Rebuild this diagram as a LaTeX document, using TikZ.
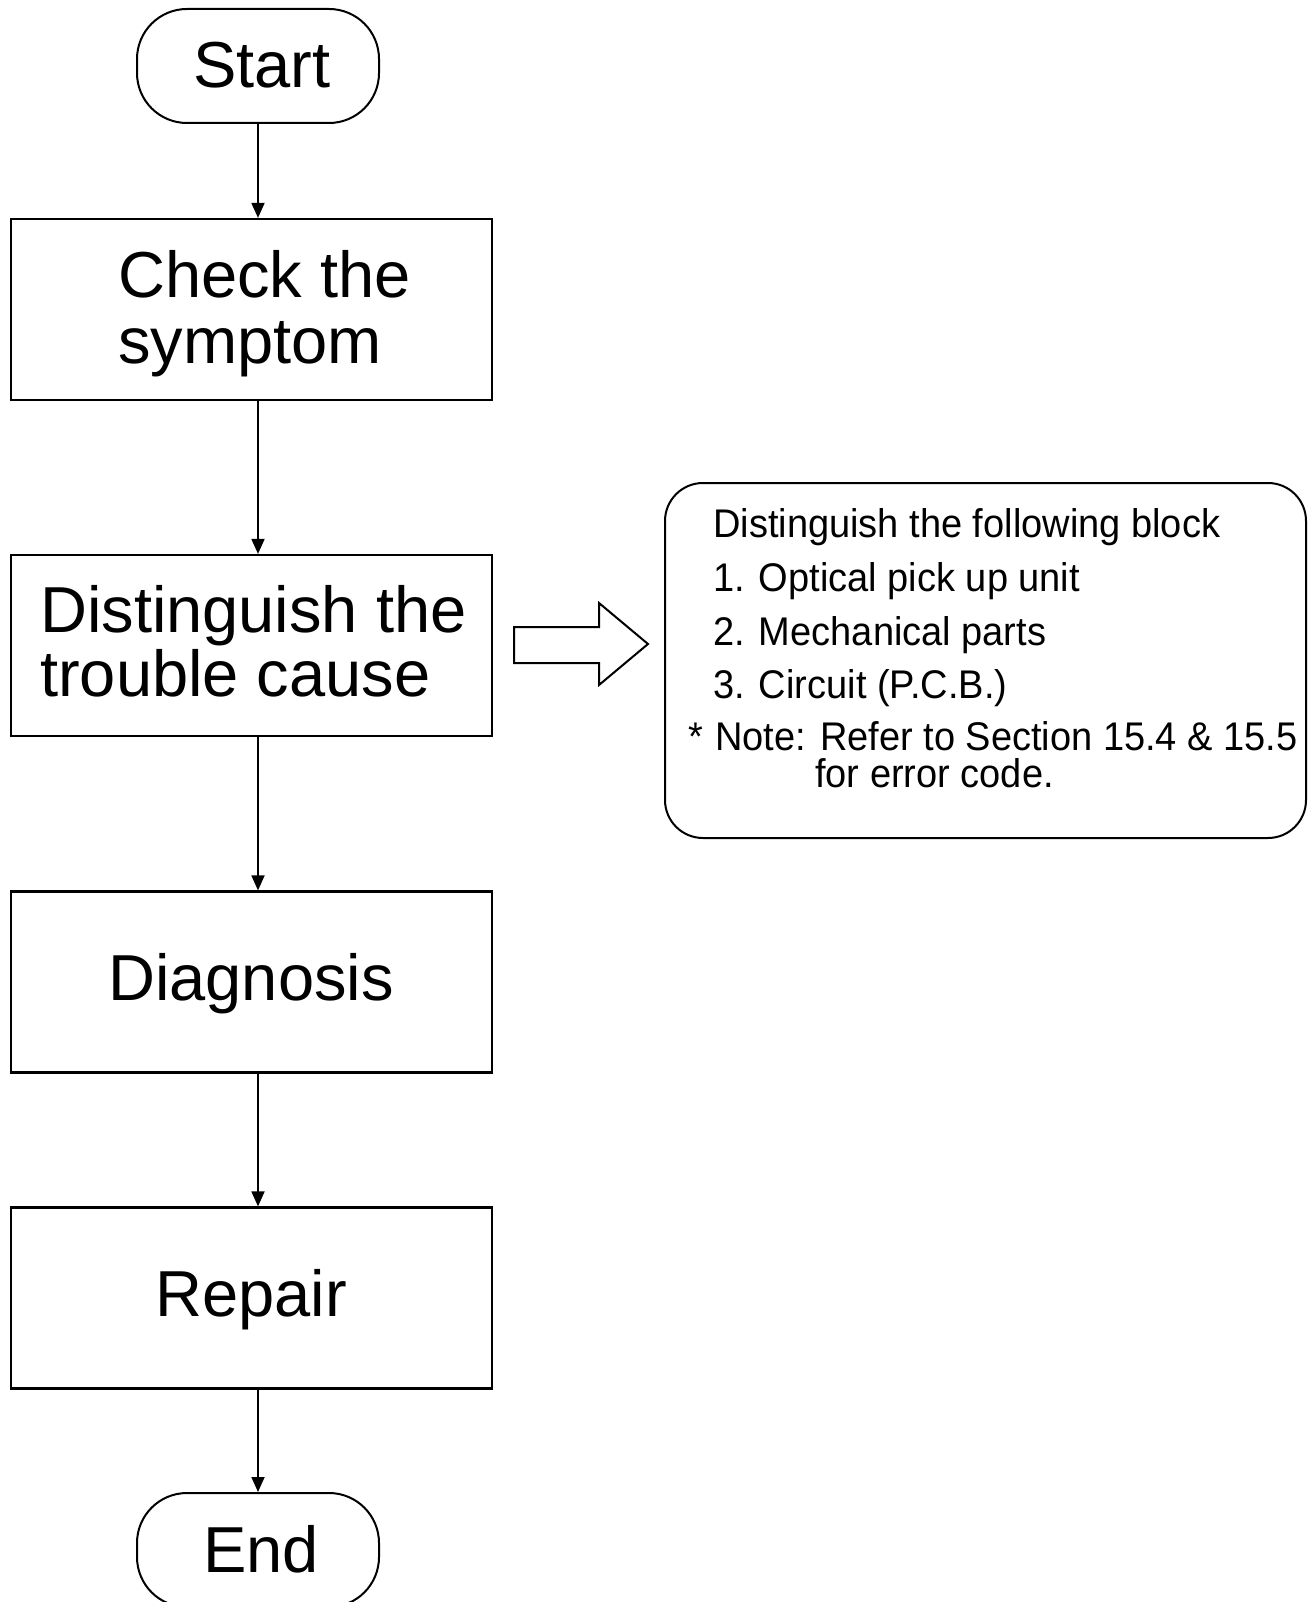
\documentclass[tikz,border=0pt]{standalone}
\usepackage{fontspec}
\setmainfont{Liberation Sans}
\newfontfamily\notefont[FakeStretch=0.95]{Liberation Sans}
\usetikzlibrary{arrows.meta}
\begin{document}
\begin{tikzpicture}[x=1pt,y=-1pt,
  box/.style={draw, line width=2.2pt, minimum width=481pt, minimum height=181pt, inner sep=0pt},
  term/.style={draw, line width=2pt, rounded corners=50pt, minimum width=242pt, minimum height=114pt, inner sep=0pt},
  arr/.style={line width=1.8pt, -{Triangle[length=15pt,width=13pt]}},
  bigtxt/.style={inner sep=0pt, font=\fontsize{65}{78}\selectfont},
  notetxt/.style={inner sep=0pt, font=\notefont\fontsize{40}{48}\selectfont},
  notebox/.style={draw, line width=2pt, rounded corners=38pt, minimum width=641pt, minimum height=355pt, inner sep=0pt}
]
\useasboundingbox (0,0) rectangle (1313,1602);
\clip (0,0) rectangle (1313,1602);
% flow nodes
\node[term] (start) at (258,66) {};
\node[box] (check) at (251.5,309.5) {};
\node[box] (cause) at (251.5,645.5) {};
\node[box] (diag) at (251.5,982) {};
\node[box] (repair) at (251.5,1298) {};
\node[term] (end) at (258,1550) {};
% texts
\node[bigtxt, anchor=base] (startT) at (262,88) {Start};
\node[bigtxt, anchor=base west] (checkT1) at (118,298) {Check the};
\node[bigtxt, anchor=base west] (checkT2) at (118,363) {symptom};
\node[bigtxt, anchor=base west] (causeT1) at (40,632) {Distinguish the};
\node[bigtxt, anchor=base west] (causeT2) at (40,696) {trouble cause};
\node[bigtxt, anchor=base] (diagT) at (251,1000) {Diagnosis};
\node[bigtxt, anchor=base] (repairT) at (251,1316) {Repair};
\node[bigtxt, anchor=base] (endT) at (261,1572) {End};
% connectors
\draw[arr] (start.south) -- (start.south |- check.north);
\draw[arr] (start.south |- check.south) -- (start.south |- cause.north);
\draw[arr] (start.south |- cause.south) -- (start.south |- diag.north);
\draw[arr] (start.south |- diag.south) -- (start.south |- repair.north);
\draw[arr] (start.south |- repair.south) -- (end.north);
% note box
\node[notebox] (note) at (985.5,660.5) {};
\node[notetxt, anchor=base west] (n0) at (713,537) {Distinguish the following block};
\node[notetxt, anchor=base west] (n1) at (713,591) {1. Optical pick up unit};
\node[notetxt, anchor=base west] (n2) at (713,645) {2. Mechanical parts};
\node[notetxt, anchor=base west] (n3) at (713,698) {3. Circuit (P.C.B.)};
\node[notetxt, anchor=base west] (n4) at (688,750) {*};
\node[notetxt, anchor=base west] (n5) at (715,750) {Note: Refer to Section 15.4 \& 15.5};
\node[notetxt, anchor=base west] (n6) at (815,787) {for error code.};
% block arrow
\draw[line width=2pt, line join=miter] (514,627) -- (599,627) -- (599,603) -- (648,644) -- (599,685) -- (599,663) -- (514,663) -- cycle;
\end{tikzpicture}
\end{document}
